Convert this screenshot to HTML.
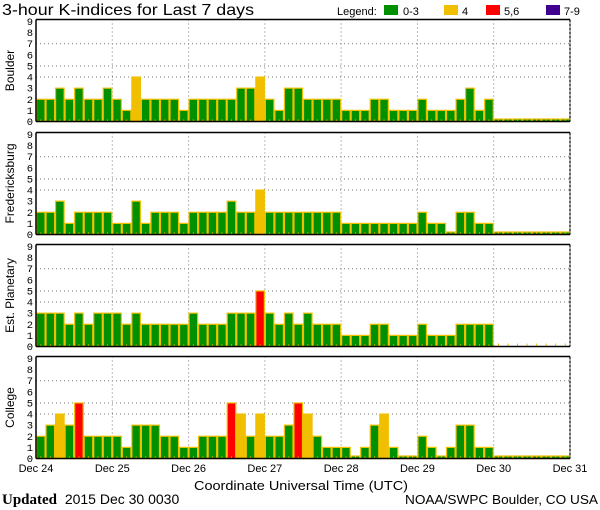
<!DOCTYPE html>
<html><head><meta charset="utf-8"><style>
body{margin:0;background:#fff;}
svg{display:block;font-family:"Liberation Mono","DejaVu Sans Mono",monospace;}
</style></head><body>
<svg id="chart" width="600" height="510" viewBox="0 0 600 510" xmlns="http://www.w3.org/2000/svg">
<text x="2" y="15" font-family="Liberation Sans, sans-serif" font-size="16" textLength="252" lengthAdjust="spacingAndGlyphs">3-hour K-indices for Last 7 days</text>
<g font-family="Liberation Sans, sans-serif" font-size="11">
<text x="337" y="15">Legend:</text>
<rect x="384" y="5" width="14" height="10" fill="#009000"/><text x="403" y="15">0-3</text>
<rect x="444" y="5" width="14" height="10" fill="#f0c000"/><text x="462" y="15">4</text>
<rect x="486" y="5" width="14" height="10" fill="#ff0000"/><text x="504" y="15">5,6</text>
<rect x="546" y="5" width="14" height="10" fill="#400090"/><text x="564" y="15">7-9</text>
</g>
<g id="panels"></g>
<text x="301" y="490" text-anchor="middle" font-family="Liberation Sans, sans-serif" font-size="13" textLength="214" lengthAdjust="spacingAndGlyphs">Coordinate Universal Time (UTC)</text>
<text x="2" y="504" font-size="13"><tspan font-weight="bold" font-family="Liberation Serif, serif" font-size="15">Updated</tspan> <tspan font-family="Liberation Sans, sans-serif" font-size="14">2015 Dec 30 0030</tspan></text>
<text x="598" y="504" text-anchor="end" font-family="Liberation Sans, sans-serif" font-size="13" textLength="193" lengthAdjust="spacingAndGlyphs">NOAA/SWPC Boulder, CO USA</text>
</svg>
<script>
const dayLabels = ["Dec 24","Dec 25","Dec 26","Dec 27","Dec 28","Dec 29","Dec 30","Dec 31"];
const stations = ["Boulder","Fredericksburg","Est. Planetary","College"];
const boulder = [2,2,3,2,3,2,2,3, 2,1,4,2,2,2,2,1, 2,2,2,2,2,3,3,4, 2,1,3,3,2,2,2,2, 1,1,1,2,2,1,1,1, 2,1,1,1,2,3,1,2, 0,0,0,0,0,0,0,0];
const fredericksburg = [2,2,3,1,2,2,2,2, 1,1,3,1,2,2,2,1, 2,2,2,2,3,2,2,4, 2,2,2,2,2,2,2,2, 1,1,1,1,1,1,1,1, 2,1,1,0,2,2,1,1, 0,0,0,0,0,0,0,0];
const planetary = [3,3,3,2,3,2,3,3, 3,2,3,2,2,2,2,2, 3,2,2,2,3,3,3,5, 3,2,3,2,3,2,2,2, 1,1,1,2,2,1,1,1, 2,1,1,1,2,2,2,2, null,null,null,null,null,null,null,null];
const college = [2,3,4,3,5,2,2,2, 2,1,3,3,3,2,2,1, 1,2,2,2,5,4,2,4, 2,2,3,5,4,2,1,1, 1,0,1,3,4,1,0,0, 2,1,0,1,3,3,1,1, 0,0,0,0,0,0,0,0];
const yTicks = [0,1,2,3,4,5,6,7,8,9];
const gridLevels = [4,5,7];
const seriesList = [boulder,fredericksburg,planetary,college];

const NS="http://www.w3.org/2000/svg";
const X0=36, X1=570, NSLOT=56;
const panelTops=[19.5,132.5,244.5,356.5], PH=102;
const xs = i => X0 + i*(X1-X0)/NSLOT;
function mk(tag, attrs, parent){const e=document.createElementNS(NS,tag);for(const k in attrs)e.setAttribute(k,attrs[k]);parent.appendChild(e);return e;}
function color(v){return v>=7?"#400090":v>=5?"#ff0000":v>=4?"#f0c000":"#009000";}
const root=document.getElementById("panels");
seriesList.forEach((data,p)=>{
  const top=panelTops[p], bot=top+PH;
  const ys = v => bot - v*(PH-2)/9;
  const g=mk("g",{},root);
  
  
  gridLevels.forEach(l=>{const ln=mk("line",{x1:X0,x2:X1,y1:ys(l),y2:ys(l),stroke:"#777","stroke-dasharray":"1,3"},g);
    
    });
  for(let d=1;d<7;d++){const ln=mk("line",{x1:xs(d*8),x2:xs(d*8),y1:top,y2:bot,stroke:"#777","stroke-dasharray":"1,3"},g);
    
    }
  data.forEach((v,i)=>{
    if(v===null){const t=mk("line",{x1:xs(i+0.5),x2:xs(i+0.5),y1:bot-3,y2:bot,stroke:"#f0c000"},g);
      
      return;}
    const h = v===0 ? 2.5 : bot-ys(v);
    const r=mk("rect",{x:xs(i)+0.5,y:bot-h,width:xs(i+1)-xs(i)-1,height:h,fill:color(v),stroke:"#f0c000","stroke-width":1.2},g);
    
    
    const t=mk("line",{x1:xs(i+0.5),x2:xs(i+0.5),y1:bot-2,y2:bot,stroke:"#f0c000"},g);
    
    
  });
  mk("line",{x1:X0,x2:X1,y1:top,y2:top,stroke:"#000","stroke-width":1.5},g);
  mk("line",{x1:X0,x2:X1,y1:bot,y2:bot,stroke:"#000","stroke-width":1.5},g);
  mk("line",{x1:X0,x2:X0,y1:top,y2:bot,stroke:"#000","stroke-width":1.5},g);
  mk("line",{x1:X1,x2:X1,y1:top,y2:bot,stroke:"#000","stroke-width":1.2,"stroke-dasharray":"3,1"},g);
  yTicks.forEach(t=>{const tx=mk("text",{x:33,y:ys(t)+3.5,"text-anchor":"end","font-size":"10.5"},g);tx.textContent=t;
    
    });
  const lab=mk("text",{x:0,y:0,"text-anchor":"middle","font-size":"12","font-family":"Liberation Sans, sans-serif",transform:`translate(14,${top+PH/2}) rotate(-90)`},g);
  lab.textContent=stations[p];
  
  
});
dayLabels.forEach((d,i)=>{const t=mk("text",{x:xs(i*8),y:472,"text-anchor":"middle","font-size":"11","font-family":"Liberation Sans, sans-serif"},root);t.textContent=d;
  
  });
</script>
</body></html>
